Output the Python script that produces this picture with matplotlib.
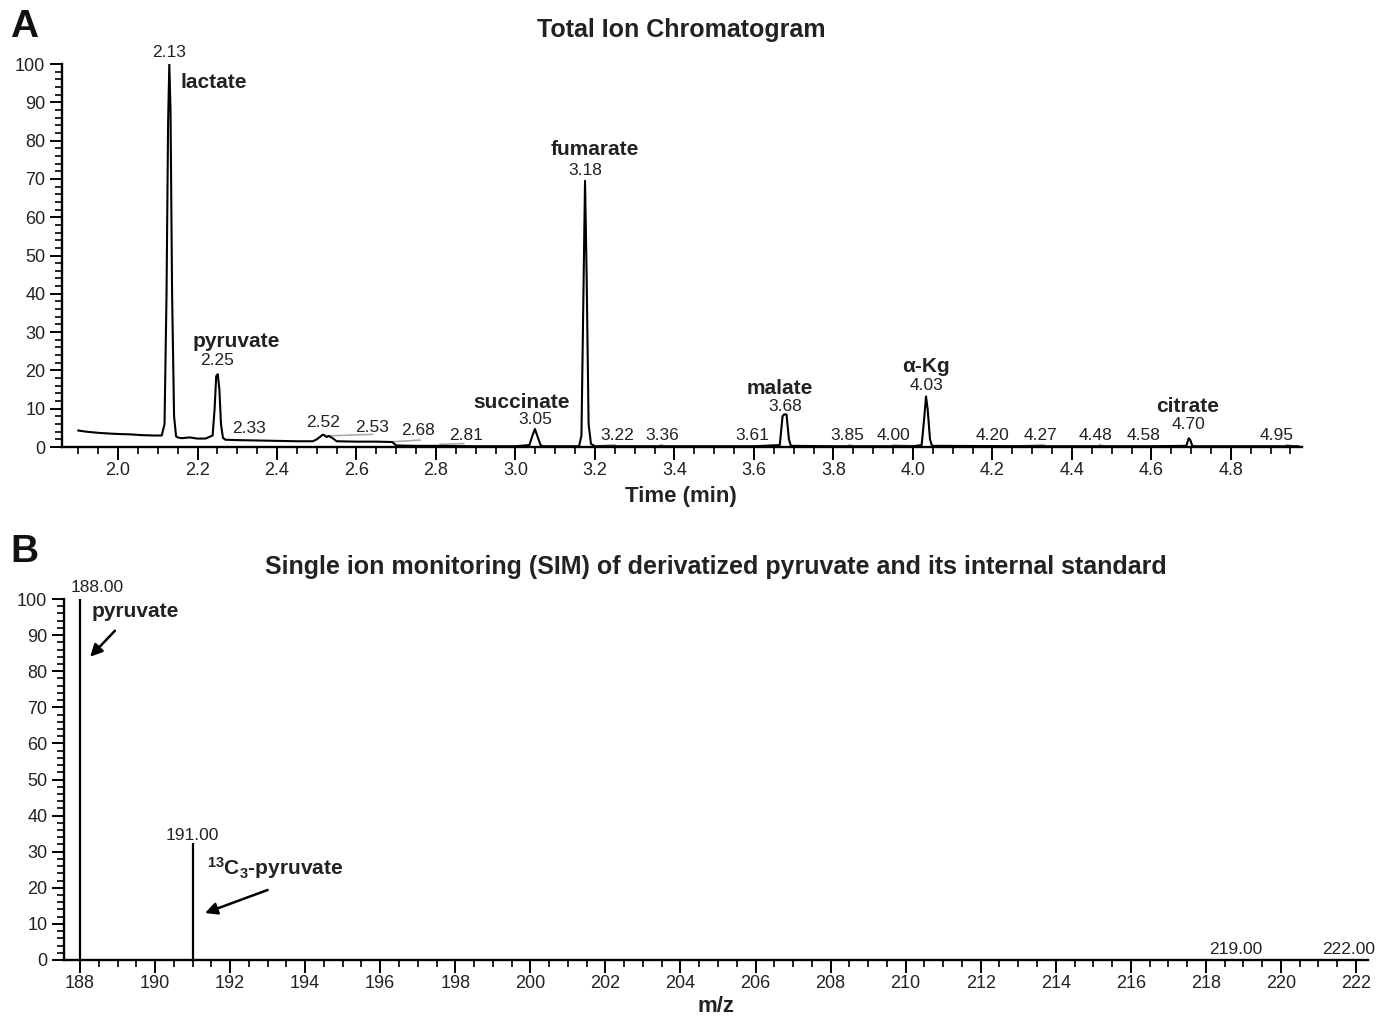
import matplotlib
matplotlib.use("Agg")
import matplotlib.pyplot as plt
from matplotlib.ticker import MultipleLocator, FormatStrFormatter

plt.rcParams['font.family'] = ['Liberation Sans', 'DejaVu Sans']
plt.rcParams['mathtext.fontset'] = 'custom'
plt.rcParams['mathtext.rm'] = 'Liberation Sans'
plt.rcParams['mathtext.bf'] = 'Liberation Sans:bold'

# ---------------- Panel A data: total ion chromatogram ----------------
tic_time = [1.90, 1.92, 1.95, 1.98, 2.00, 2.03, 2.06, 2.09, 2.11, 2.117, 2.122, 2.126,
            2.129, 2.132, 2.136, 2.141, 2.146, 2.15, 2.16, 2.18, 2.20, 2.22, 2.238,
            2.243, 2.247, 2.251, 2.255, 2.259, 2.264, 2.27, 2.30, 2.35, 2.40, 2.45,
            2.49, 2.50, 2.51, 2.515, 2.52, 2.525, 2.53, 2.54, 2.55, 2.60, 2.65, 2.69,
            2.70, 2.75, 2.80, 2.90, 3.00, 3.035, 3.042, 3.049, 3.056, 3.063, 3.07,
            3.16, 3.166, 3.171, 3.175, 3.179, 3.184, 3.19, 3.20, 3.40, 3.60, 3.665,
            3.672, 3.676, 3.682, 3.688, 3.693, 3.80, 4.00, 4.022, 4.028, 4.033, 4.037,
            4.043, 4.048, 4.30, 4.60, 4.688, 4.694, 4.698, 4.703, 4.71, 4.97]
tic_int = [4.3, 4.0, 3.7, 3.5, 3.4, 3.3, 3.1, 3.0, 3.0, 6.0, 40.0, 85.0,
           100.0, 88.0, 40.0, 8.0, 2.8, 2.5, 2.3, 2.5, 2.2, 2.2, 3.0,
           10.0, 18.5, 19.0, 15.0, 6.0, 2.4, 1.9, 1.8, 1.7, 1.6, 1.5,
           1.5, 2.0, 2.8, 3.2, 3.0, 2.6, 2.9, 2.3, 1.5, 1.4, 1.4, 1.3,
           0.4, 0.3, 0.3, 0.2, 0.2, 0.5, 2.8, 4.7, 2.6, 0.5, 0.2,
           0.2, 3.0, 40.0, 69.5, 45.0, 6.0, 0.8, 0.2, 0.2, 0.2, 0.5,
           8.0, 8.5, 8.5, 2.0, 0.3, 0.2, 0.2, 0.5, 7.0, 13.2, 10.0,
           2.0, 0.3, 0.2, 0.2, 0.3, 2.3, 1.8, 0.3, 0.2, 0.2]

rt_labels = ["2.13", "2.25", "2.33", "2.52", "2.53", "2.68", "2.81", "3.05", "3.18",
             "3.22", "3.36", "3.61", "3.68", "3.85", "4.00", "4.03", "4.20", "4.27",
             "4.48", "4.58", "4.70", "4.95"]
rt_label_x = [2.128, 2.25, 2.33, 2.516, 2.64, 2.755, 2.875, 3.049, 3.175,
              3.255, 3.37, 3.597, 3.678, 3.834, 3.95, 4.033, 4.20, 4.32,
              4.46, 4.58, 4.694, 4.916]
rt_label_y = [103.0, 22.5, 4.7, 6.3, 5.2, 4.2, 2.9, 7.3, 72.3,
              2.9, 2.9, 2.9, 10.5, 2.9, 2.9, 16.0, 2.9, 2.9,
              2.9, 2.9, 5.8, 2.9]

compounds = ["lactate", "pyruvate", "succinate", "fumarate", "malate", "\u03b1-Kg", "citrate"]
compound_x = [2.157, 2.297, 3.016, 3.20, 3.665, 4.033, 4.692]
compound_y = [95.3, 27.5, 11.5, 77.7, 15.2, 21.0, 10.7]

# integration baseline marks (grey)
base_x0 = [2.525, 2.68, 2.81, 3.21, 3.355, 3.84, 3.95, 4.27, 4.47, 4.94]
base_x1 = [2.64, 2.76, 2.87, 3.25, 3.37, 3.85, 4.00, 4.33, 4.48, 4.96]
base_y0 = [2.9, 1.3, 0.7, 0.3, 0.2, 0.6, 0.5, 0.3, 0.6, 0.6]
base_y1 = [3.3, 1.8, 0.9, 0.6, 0.6, 0.2, 0.3, 0.6, 0.2, 0.2]

# ---------------- Panel B data: SIM ----------------
mz = [188.0, 191.0, 219.0, 222.0]
mz_int = [100.0, 32.5, 0.3, 0.3]
mz_labels = ["188.00", "191.00", "219.00", "222.00"]
mz_label_x = [188.45, 191.0, 218.8, 221.8]
mz_label_y = [103.3, 34.6, 3.0, 3.0]

fig = plt.figure(figsize=(13.79, 10.18), dpi=100)
W, H = 1379.0, 1018.0
TXT = "#222222"

def style_axes(ax):
    for s in ("top", "right"):
        ax.spines[s].set_visible(False)
    for s in ("left", "bottom"):
        ax.spines[s].set_linewidth(1.7)
    ax.tick_params(which="major", direction="out", length=9, width=1.4,
                   labelsize=13, pad=2, labelcolor=TXT)
    ax.tick_params(which="minor", direction="out", length=5, width=1.2)
    ax.tick_params(axis="y", which="major", pad=3)
    ax.yaxis.set_major_locator(MultipleLocator(10))
    ax.yaxis.set_minor_locator(MultipleLocator(2))

# ---- Panel A ----
axA = fig.add_axes([62 / W, 1 - 447 / H, 1240 / W, 383 / H])
axA.plot(tic_time, tic_int, color="black", lw=1.5, zorder=3)
for x0, x1, y0, y1 in zip(base_x0, base_x1, base_y0, base_y1):
    axA.plot([x0, x1], [y0, y1], color="#aaaaaa", lw=1.2, zorder=2)
axA.set_xlim(1.859, 4.979)
axA.set_ylim(0, 100)
style_axes(axA)
axA.xaxis.set_major_locator(MultipleLocator(0.2))
axA.xaxis.set_major_formatter(FormatStrFormatter("%.1f"))
axA.set_xticks([1.9 + 0.05 * i for i in range(62)], minor=True)
for t, x, y in zip(rt_labels, rt_label_x, rt_label_y):
    axA.text(x, y, t, ha="center", va="center", fontsize=12.5, color=TXT,
             clip_on=False)
for t, x, y in zip(compounds, compound_x, compound_y):
    ha = "left" if t == "lactate" else "center"
    axA.text(x, y, t, ha=ha, va="center", fontsize=15, fontweight="bold",
             color=TXT, clip_on=False)

fig.text(681 / W, 1 - 30 / H, "Total Ion Chromatogram", ha="center", va="center",
         fontsize=18, fontweight="bold", color=TXT)
fig.text(681 / W, 1 - 497 / H, "Time (min)", ha="center", va="center",
         fontsize=16, fontweight="bold", color=TXT)
fig.text(10 / W, 1 - 27 / H, "A", ha="left", va="center", fontsize=28,
         fontweight="bold", color="#111111")

# ---- Panel B ----
axB = fig.add_axes([64 / W, 1 - 960 / H, 1304 / W, 361 / H])
axB.vlines(mz, 0, mz_int, color="black", lw=1.6, zorder=3)
axB.plot([188.0, 188.55], [101.0, 101.0], color="#aaaaaa", lw=1.2)
axB.set_xlim(187.574, 222.32)
axB.set_ylim(0, 100)
style_axes(axB)
axB.xaxis.set_major_locator(MultipleLocator(2))
axB.xaxis.set_minor_locator(MultipleLocator(0.5))
for t, x, y in zip(mz_labels, mz_label_x, mz_label_y):
    axB.text(x, y, t, ha="center", va="center", fontsize=12.5, color=TXT,
             clip_on=False)
axB.text(188.32, 96.4, "pyruvate", ha="left", va="center", fontsize=15,
         fontweight="bold", color=TXT)
axB.text(191.38, 25.5, r"$\mathbf{^{13}C_{3}}$-pyruvate", ha="left", va="center",
         fontsize=15, fontweight="bold", color=TXT)
axB.annotate("", xy=(188.27, 84.0), xytext=(188.93, 91.2),
             arrowprops=dict(arrowstyle="-|>", color="black", lw=1.8,
                             mutation_scale=18, shrinkA=0, shrinkB=0))
axB.annotate("", xy=(191.33, 13.0), xytext=(193.0, 19.4),
             arrowprops=dict(arrowstyle="-|>", color="black", lw=1.8,
                             mutation_scale=18, shrinkA=0, shrinkB=0))

fig.text(716 / W, 1 - 567 / H,
         "Single ion monitoring (SIM) of derivatized pyruvate and its internal standard",
         ha="center", va="center", fontsize=18, fontweight="bold", color=TXT)
fig.text(716 / W, 1 - 1007 / H, "m/z", ha="center", va="center", fontsize=16,
         fontweight="bold", color=TXT)
fig.text(10 / W, 1 - 552 / H, "B", ha="left", va="center", fontsize=28,
         fontweight="bold", color="#111111")

fig.savefig("out.png", dpi=100)
